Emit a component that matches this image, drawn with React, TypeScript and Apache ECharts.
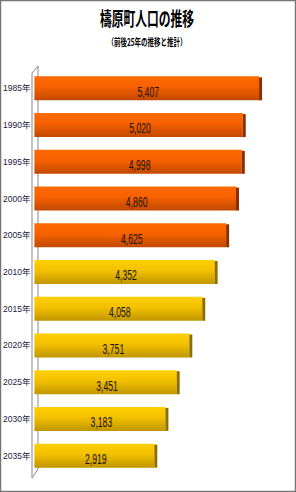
import React, { useEffect, useRef } from "react";
import * as echarts from "echarts";

const categories = ["1985年", "1990年", "1995年", "2000年", "2005年", "2010年", "2015年", "2020年", "2025年", "2030年", "2035年"];
const population = [5407, 5020, 4998, 4860, 4625, 4352, 4058, 3751, 3451, 3183, 2919];
const isActual = [true, true, true, true, true, false, false, false, false, false, false];

const TITLE = "檮原町人口の推移";
const SUBTITLE = "（前後25年の推移と推計）";

export default function App() {
  const ref = useRef<HTMLDivElement>(null);
  useEffect(() => {
    const chart = echarts.init(ref.current!, null, { renderer: "svg" });
    const orangeFill = new echarts.graphic.LinearGradient(0, 0, 0, 1, [
      { offset: 0, color: "#FF6A00" },
      { offset: 0.45, color: "#F66000" },
      { offset: 1, color: "#C04800" },
    ]);
    const yellowFill = new echarts.graphic.LinearGradient(0, 0, 0, 1, [
      { offset: 0, color: "#FFD000" },
      { offset: 0.45, color: "#F2C000" },
      { offset: 1, color: "#C09600" },
    ]);
    const data = population.map((v, i) => [v, i]);
    chart.setOption({
      animation: false,
      backgroundColor: "#ffffff",
      grid: { left: 34, right: 9, top: 70, bottom: 18, containLabel: false },
      xAxis: {
        type: "value",
        min: 0,
        max: 6000,
        show: false,
      },
      yAxis: {
        type: "category",
        data: categories,
        inverse: true,
        axisLine: { show: false },
        axisTick: { show: false },
        axisLabel: {
          margin: 4,
          padding: [10, 0, 0, 0],
          fontSize: 8.5,
          color: "#1a1a40",
          fontFamily: "Liberation Sans, Noto Sans CJK JP",
        },
      },
      graphic: [
        {
          type: "text",
          x: 147,
          y: 18,
          scaleX: 0.62,
          style: {
            text: TITLE,
            align: "center",
            verticalAlign: "middle",
            fontSize: 19,
            fontWeight: "bold",
            fill: "#000",
            fontFamily: "Noto Sans CJK JP",
          },
        },
        {
          type: "text",
          x: 147,
          y: 41,
          scaleX: 0.65,
          style: {
            text: SUBTITLE,
            align: "center",
            verticalAlign: "middle",
            fontSize: 10,
            fontWeight: "bold",
            fill: "#000",
            fontFamily: "Noto Sans CJK JP",
          },
        },
        { type: "line", shape: { x1: 38, y1: 66, x2: 38, y2: 469 }, style: { stroke: "#888", lineWidth: 1 } },
        { type: "line", shape: { x1: 32, y1: 73, x2: 32, y2: 478 }, style: { stroke: "#888", lineWidth: 1 } },
        { type: "line", shape: { x1: 32, y1: 73, x2: 38, y2: 66 }, style: { stroke: "#888", lineWidth: 1 } },
        { type: "line", shape: { x1: 32, y1: 478, x2: 38, y2: 469 }, style: { stroke: "#888", lineWidth: 1 } },
        {
          type: "rect",
          shape: { x: 0.5, y: 0.5, width: 295, height: 491 },
          style: { fill: "none", stroke: "#777", lineWidth: 1.5 },
          z: 100,
        },
      ],
      series: [
        {
          type: "custom",
          data,
          renderItem: (params: any, api: any) => {
            const v = api.value(0);
            const idx = api.value(1);
            const start = api.coord([0, idx]);
            const end = api.coord([v, idx]);
            const h = 24;
            const y = start[1] - h / 2;
            const x0 = start[0];
            const x1 = end[0];
            const actual = isActual[idx];
            return {
              type: "group",
              children: [
                {
                  type: "rect",
                  shape: { x: x0, y, width: x1 - x0 - 3, height: h },
                  style: { fill: actual ? orangeFill : yellowFill },
                },
                {
                  type: "rect",
                  shape: { x: x1 - 3, y: y + 1, width: 3, height: h - 1 },
                  style: { fill: actual ? "#8A3000" : "#8E6E00" },
                },
                {
                  type: "text",
                  x: (x0 + x1) / 2,
                  y: start[1] + 3,
                  scaleX: 0.62,
                  style: {
                    text: echarts.format.addCommas(v),
                    align: "center",
                    verticalAlign: "middle",
                    fontSize: 14,
                    fill: "#1a1000",
                    fontFamily: "Liberation Sans",
                  },
                },
              ],
            };
          },
          encode: { x: 0, y: 1 },
        },
      ],
    });
    return () => chart.dispose();
  }, []);
  return (
    <div
      ref={ref}
      style={{ position: "fixed", left: 0, top: 0, width: 296, height: 492 }}
    />
  );
}
